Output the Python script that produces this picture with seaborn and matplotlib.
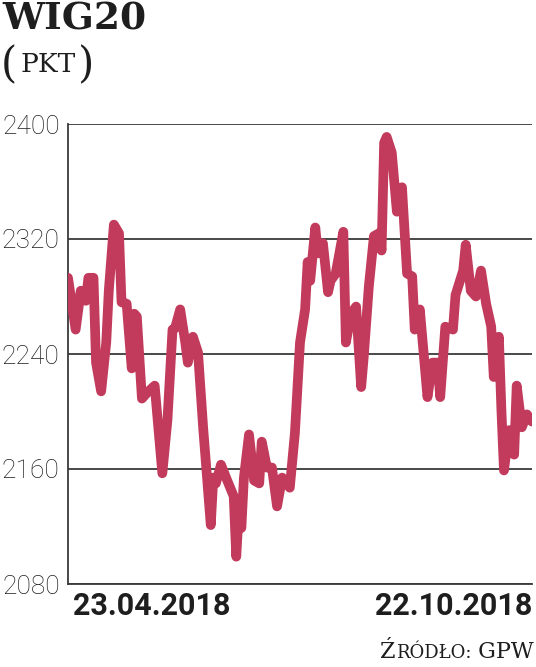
import matplotlib
matplotlib.use("Agg")
import matplotlib.pyplot as plt
import seaborn as sns
import pandas as pd
from matplotlib.offsetbox import TextArea, HPacker, AnchoredOffsetbox

# days after 23.04.2018 and WIG20 close (pkt)
day = [0, 3, 5, 7, 8, 10, 11, 13, 15, 16, 18, 20, 21, 23, 25, 26, 27, 29, 31, 34,
       37, 39, 41, 42, 44, 46, 47, 49, 51, 53, 56, 57, 58, 60, 62, 65, 66, 67, 68, 69,
       71, 73, 75, 76, 78, 80, 82, 84, 87, 89, 91, 93, 94, 95, 97, 98, 100, 102, 103, 105,
       108, 109, 111, 113, 115, 116, 118, 120, 122, 123, 124, 125, 127, 129, 131, 133, 135, 136, 138, 141,
       143, 145, 146, 148, 151, 152, 155, 156, 158, 160, 162, 164, 166, 167, 169, 170, 171, 173, 175, 176,
       178, 180, 182]
wig20 = [2293, 2257, 2284, 2277, 2293, 2293, 2234, 2214, 2248, 2284, 2330, 2324, 2276, 2275, 2230, 2268, 2266, 2209, 2213, 2218,
         2157, 2194, 2257, 2258, 2271, 2248, 2234, 2252, 2241, 2189, 2121, 2154, 2150, 2163, 2154, 2141, 2099, 2131, 2119, 2154,
         2184, 2152, 2150, 2179, 2161, 2161, 2134, 2154, 2147, 2185, 2248, 2271, 2304, 2291, 2328, 2310, 2317, 2283, 2291, 2296,
         2325, 2248, 2268, 2273, 2217, 2238, 2287, 2322, 2324, 2312, 2387, 2391, 2380, 2339, 2356, 2296, 2294, 2257, 2271, 2210,
         2234, 2234, 2210, 2259, 2257, 2281, 2298, 2316, 2284, 2280, 2298, 2275, 2259, 2224, 2252, 2201, 2159, 2187, 2170, 2218,
         2189, 2198, 2193]
y_ticks = [2080, 2160, 2240, 2320, 2400]
start_label = "23.04.2018"
end_label = "22.10.2018"

df = pd.DataFrame({
    "date": pd.Timestamp("2018-04-23") + pd.to_timedelta(day, unit="D"),
    "wig20": wig20,
})

sns.set_style("white")
LINE = "#c23a5c"
GRID = "#3a3a3a"
TXT = "#1e1e1e"
NUM_FONT = ["Roboto", "DejaVu Sans"]
SERIF = "DejaVu Serif"

fig = plt.figure(figsize=(5.36, 6.67), dpi=100)
ax = fig.add_axes([68 / 536, 83 / 667, 464 / 536, 460 / 667])

sns.lineplot(data=df, x="date", y="wig20", ax=ax, color=LINE, linewidth=7,
             solid_joinstyle="round", solid_capstyle="round", zorder=3)

ax.set_xlim(df["date"].min(), df["date"].max())
ax.set_ylim(y_ticks[0], y_ticks[-1])
ax.set_yticks(y_ticks)
ax.set_yticklabels([str(t) for t in y_ticks], fontsize=19, fontweight="light",
                   color=TXT, family=NUM_FONT)
ax.set_xticks([])
ax.set_xlabel("")
ax.set_ylabel("")
ax.tick_params(axis="y", length=0, pad=6)
ax.grid(axis="y", color=GRID, linewidth=1.3)
ax.set_axisbelow(True)
for side in ["top", "right"]:
    ax.spines[side].set_visible(False)
for side in ["left", "bottom"]:
    ax.spines[side].set_color(GRID)
    ax.spines[side].set_linewidth(1.3)

# date labels under both ends
ax.text(0.01, -0.015, start_label, transform=ax.transAxes, ha="left", va="top",
        fontsize=22, fontweight="bold", color=TXT, family=NUM_FONT)
ax.text(1.0, -0.015, end_label, transform=ax.transAxes, ha="right", va="top",
        fontsize=22, fontweight="bold", color=TXT, family=NUM_FONT)

# title
fig.text(2 / 536, 1 - 1 / 667, "WIG20", ha="left", va="top", fontsize=27,
         fontweight="bold", family=SERIF, color=TXT)

# unit in small caps inside tall parentheses
paren = dict(fontsize=30, family=SERIF, color=TXT)
unit = dict(fontsize=19, family=SERIF, color=TXT)
unit_box = HPacker(children=[TextArea("(", textprops=paren), TextArea("PKT", textprops=unit),
                             TextArea(")", textprops=paren)], align="center", pad=0, sep=2)
ax.add_artist(AnchoredOffsetbox(loc="upper left", child=unit_box, pad=0, borderpad=0, frameon=False,
                                bbox_to_anchor=(1 / 536, 1 - 44 / 667),
                                bbox_transform=fig.transFigure))

# source line in small caps
big = dict(fontsize=16, family=SERIF, color=TXT)
small = dict(fontsize=13, family=SERIF, color=TXT)
parts = [TextArea("Ź", textprops=big), TextArea("RÓDŁO:", textprops=small),
         TextArea(" GPW", textprops=big)]
box = HPacker(children=parts, align="baseline", pad=0, sep=0)
ax.add_artist(AnchoredOffsetbox(loc="lower right", child=box, pad=0, borderpad=0, frameon=False,
                                bbox_to_anchor=(534 / 536, 4 / 667),
                                bbox_transform=fig.transFigure))

fig.savefig("out.png", dpi=100)
